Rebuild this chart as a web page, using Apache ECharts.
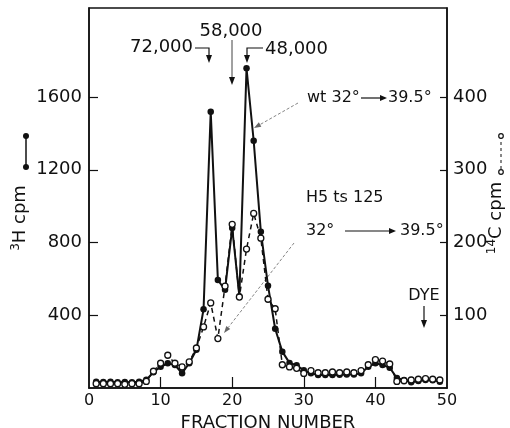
<!DOCTYPE html>
<html>
<head>
<meta charset="utf-8">
<script src="https://cdn.jsdelivr.net/npm/echarts@6/dist/echarts.min.js"></script>
<style>
html,body{margin:0;padding:0;background:#fff;}
#c{width:510px;height:428px;}
</style>
</head>
<body>
<div id="c"></div>
<script>
// ---- data ----
const fractions = [1,2,3,4,5,6,7,8,9,10,11,12,13,14,15,16,17,18,19,20,21,22,23,24,25,26,27,28,29,30,31,32,33,34,35,36,37,38,39,40,41,42,43,44,45,46,47,48,49];
// 3H cpm (wt 32 -> 39.5), filled circles, solid line
const h3cpm = [35,33,34,32,33,31,34,45,87,117,136,126,81,136,210,433,1520,594,540,880,505,1758,1360,860,563,326,200,138,125,97,81,72,71,71,73,74,74,81,117,136,126,112,55,44,32,39,44,42,35];
// 14C cpm (H5 ts125 32 -> 39.5), open circles, dashed line
const c14cpm = [6,6,6,6,5,6,6,9,23,34,45,34,29,36,55,84,117,68,140,225,125,191,240,206,122,109,32,29,27,20,24,21,21,22,21,22,21,24,32,39,37,33,9,10,11,12,13,12,11];
const xTicks = [0,10,20,30,40,50];
const leftTicks = [400,800,1200,1600];
const rightTicks = [100,200,300,400];

const FONT = 'DejaVu Sans';
const INK = '#111';

const chart = echarts.init(document.getElementById('c'), null, {renderer:'canvas'});

function arrow(x1,y1,x2,y2,o){
  o = o || {};
  const pts = (o.pts||[[x1,y1]]);
  const last = pts[pts.length-1];
  const dx=x2-last[0], dy=y2-last[1], L=Math.hypot(dx,dy)||1;
  const ux=dx/L, uy=dy/L, hl=o.hl||8, hw=o.hw||3;
  const bx=x2-ux*hl, by=y2-uy*hl;
  return [
    {type:'polyline', silent:true, shape:{points:pts.concat([[bx,by]])},
      style:{stroke:o.color||INK, lineWidth:o.lw||1.2, lineDash:o.dash||null, fill:null}},
    {type:'polygon', silent:true, shape:{points:[[x2,y2],[bx-uy*hw,by+ux*hw],[bx+uy*hw,by-ux*hw]]},
      style:{fill:o.color||INK}}
  ];
}
function txt(x,y,t,extra){
  return Object.assign({type:'text', x:x, y:y, silent:true,
    style:Object.assign({text:t, font:'18px "'+FONT+'"', fill:INK, align:'left', verticalAlign:'middle'}, extra||{})});
}
const F16 = '16px "'+FONT+'"';

const graphics = [];
// peak annotations
graphics.push(txt(193,47,'72,000',{align:'right'}));
graphics.push(...arrow(195,48,209,63,{pts:[[195,48],[209,48]]}));
graphics.push(txt(231,31,'58,000',{align:'center'}));
graphics.push(...arrow(232,40,232,85,{lw:0.8}));
graphics.push(txt(265,49,'48,000',{align:'left'}));
graphics.push(...arrow(263,48,247,63,{pts:[[263,48],[247,48]]}));
// wt label
graphics.push(txt(307,98,'wt 32°',{font:F16}));
graphics.push(...arrow(361,98,387,98,{hl:7,hw:3}));
graphics.push(txt(388,98,'39.5°',{font:F16}));
graphics.push(...arrow(298,103,254,128,{color:'#666',lw:0.8,dash:[3,2],hl:7,hw:2.5}));
// H5 label
graphics.push(txt(306,198,'H5 ts 125',{font:F16}));
graphics.push(txt(306,231,'32°',{font:F16}));
graphics.push(...arrow(345,231,396,231,{hl:7,hw:3}));
graphics.push(txt(400,231,'39.5°',{font:F16}));
graphics.push(...arrow(294,243,224,333,{color:'#666',lw:0.8,dash:[3,2],hl:7,hw:2.5}));
// DYE
graphics.push(txt(424,296,'DYE',{align:'center', font:F16}));
graphics.push(...arrow(424,306,424,328,{lw:1.2}));
// left axis name with legend symbol
graphics.push({type:'text', x:20, y:218, rotation:Math.PI/2, silent:true,
  style:{text:'{s|3}{n|H cpm}', align:'center', verticalAlign:'middle', fill:INK,
    rich:{s:{font:'12px "'+FONT+'"', fill:INK, verticalAlign:'top', padding:[0,0,8,0]},
          n:{font:'18px "'+FONT+'"', fill:INK}}}});
graphics.push({type:'line', silent:true, shape:{x1:26,y1:136,x2:26,y2:167}, style:{stroke:INK, lineWidth:1.5}});
graphics.push({type:'circle', silent:true, shape:{cx:26,cy:136,r:3}, style:{fill:INK}});
graphics.push({type:'circle', silent:true, shape:{cx:26,cy:167,r:3}, style:{fill:INK}});
// right axis name with legend symbol
graphics.push({type:'text', x:496, y:218, rotation:Math.PI/2, silent:true,
  style:{text:'{s|14}{n|C cpm}', align:'center', verticalAlign:'middle', fill:INK,
    rich:{s:{font:'12px "'+FONT+'"', fill:INK, verticalAlign:'top', padding:[0,0,8,0]},
          n:{font:'18px "'+FONT+'"', fill:INK}}}});
graphics.push({type:'line', silent:true, shape:{x1:501,y1:136,x2:501,y2:172}, style:{stroke:INK, lineWidth:1, lineDash:[3,3]}});
graphics.push({type:'circle', silent:true, shape:{cx:501,cy:136,r:2.3}, style:{fill:'#fff', stroke:INK, lineWidth:1.2}});
graphics.push({type:'circle', silent:true, shape:{cx:501,cy:172,r:2.3}, style:{fill:'#fff', stroke:INK, lineWidth:1.2}});

const plain = v => String(v);

const option = {
  backgroundColor:'#fff',
  animation:false,
  textStyle:{fontFamily:FONT, color:INK},
  grid:{left:89, right:63, top:8, bottom:40, outerBoundsMode:'none', containLabel:false,
    show:true, borderColor:INK, borderWidth:1.5, backgroundColor:'transparent'},
  xAxis:{type:'value', min:0, max:50, interval:10,
    name:'FRACTION NUMBER', nameLocation:'middle', nameGap:24,
    nameTextStyle:{fontFamily:FONT, fontSize:18, color:INK},
    axisLine:{show:true, lineStyle:{color:INK, width:1.5}},
    axisTick:{show:true, inside:true, length:11, customValues:[10,20,30,40], lineStyle:{color:INK, width:1.2}},
    axisLabel:{customValues:xTicks, formatter:plain, fontFamily:FONT, fontSize:16, color:INK, margin:5},
    splitLine:{show:false}},
  yAxis:[
    {type:'value', min:0, max:2090, interval:400, position:'left',
      axisLine:{show:true, lineStyle:{color:INK, width:1.5}},
      axisTick:{show:true, inside:true, length:9, customValues:leftTicks, lineStyle:{color:INK, width:1.2}},
      axisLabel:{customValues:leftTicks, formatter:plain, fontFamily:FONT, fontSize:18, color:INK, margin:7},
      splitLine:{show:false}},
    {type:'value', min:0, max:522.5, interval:100, position:'right',
      axisLine:{show:true, lineStyle:{color:INK, width:1.5}},
      axisTick:{show:true, inside:true, length:7, customValues:rightTicks, lineStyle:{color:INK, width:1.2}},
      axisLabel:{customValues:rightTicks, formatter:plain, fontFamily:FONT, fontSize:18, color:INK, margin:6},
      splitLine:{show:false}}
  ],
  series:[
    {name:'3H cpm', type:'line', yAxisIndex:0, data:fractions.map((f,i)=>[f,h3cpm[i]]),
      symbol:'circle', symbolSize:6.5, itemStyle:{color:INK},
      lineStyle:{color:INK, width:2}, z:2},
    {name:'14C cpm', type:'line', yAxisIndex:1, data:fractions.map((f,i)=>[f,c14cpm[i]]),
      symbol:'circle', symbolSize:6, itemStyle:{color:'#fff', borderColor:INK, borderWidth:1.3},
      lineStyle:{color:INK, width:1.5, type:[5,4]}, z:3}
  ],
  graphic:graphics
};
chart.setOption(option);
</script>
</body>
</html>
